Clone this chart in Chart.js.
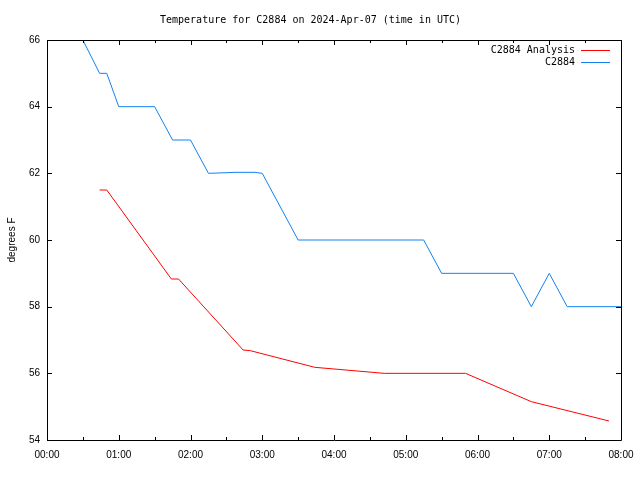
<!DOCTYPE html>
<html>
<head>
<meta charset="utf-8">
<script src="https://cdn.jsdelivr.net/npm/chart.js@4.4.1/dist/chart.umd.min.js"></script>
<style>
  html, body { margin: 0; padding: 0; background: #fff; }
  #wrap { width: 640px; height: 480px; }
</style>
</head>
<body>
<div id="wrap"><canvas id="myChart" width="640" height="480"></canvas></div>
<script>
// readings, times in UTC (HH:MM), temperature in degrees F
const stationTimes = ['00:30', '00:44', '00:50', '01:00', '01:30', '01:45', '02:00', '02:15', '02:38', '02:54', '03:00', '03:30', '05:15', '05:30', '06:30', '06:45', '07:00', '07:15', '08:00'];
const stationTemps = [66, 65, 65, 64, 64, 63, 63, 62, 62.03, 62.03, 62, 60, 60, 59, 59, 58, 59, 58, 58];

const analysisTimes = ['00:44', '00:50', '01:44', '01:50', '02:44', '02:50', '03:44', '04:42', '05:50', '06:45', '07:50'];
const analysisTemps = [61.5, 61.5, 58.83, 58.83, 56.7, 56.68, 56.18, 56.0, 56.0, 55.15, 54.57];

const xTickLabels = ['00:00', '01:00', '02:00', '03:00', '04:00', '05:00', '06:00', '07:00', '08:00'];
const yTicks = [54, 56, 58, 60, 62, 64, 66];

const MONO = '"DejaVu Sans Mono", monospace';
const SANS = '"Liberation Sans", Arial, sans-serif';

function toHours(t) {
  const [h, m] = t.split(':').map(Number);
  return h + m / 60;
}

function toPoints(times, temps) {
  return times.map((t, i) => ({ x: toHours(t), y: temps[i] }));
}

// gnuplot style frame: full border, inward ticks on all four sides
const frameTicks = {
  id: 'frameTicks',
  afterDraw(chart) {
    const ctx = chart.ctx;
    const { left, right, top, bottom } = chart.chartArea;
    const xs = chart.scales.x;
    const ys = chart.scales.y;
    ctx.save();
    ctx.strokeStyle = '#000';
    ctx.lineWidth = 1;
    ctx.beginPath();
    ctx.rect(Math.round(left) + 0.5, Math.round(top) + 0.5, Math.round(right - left), Math.round(bottom - top));
    for (let h = 0; h <= 8; h += 0.5) {
      const px = Math.round(xs.getPixelForValue(h)) + 0.5;
      const len = Number.isInteger(h) ? 5 : 3;
      ctx.moveTo(px, bottom); ctx.lineTo(px, bottom - len);
      ctx.moveTo(px, top); ctx.lineTo(px, top + len);
    }
    yTicks.forEach(v => {
      const py = Math.round(ys.getPixelForValue(v)) + 0.5;
      ctx.moveTo(left, py); ctx.lineTo(left + 5, py);
      ctx.moveTo(right, py); ctx.lineTo(right - 5, py);
    });
    ctx.stroke();

    // legend, text on the left of the line sample
    ctx.font = '10px ' + MONO;
    ctx.textAlign = 'right';
    ctx.textBaseline = 'middle';
    chart.data.datasets.forEach((ds, i) => {
      const y = 50 + i * 12;
      ctx.fillStyle = '#000';
      ctx.fillText(ds.label, 575, y);
      ctx.strokeStyle = ds.borderColor;
      ctx.beginPath();
      ctx.moveTo(581, y + 0.5);
      ctx.lineTo(610, y + 0.5);
      ctx.stroke();
    });
    ctx.restore();
  }
};

const ctx = document.getElementById('myChart').getContext('2d');
const chart = new Chart(ctx, {
  type: 'line',
  data: {
    datasets: [{
      label: 'C2884 Analysis',
      data: toPoints(analysisTimes, analysisTemps),
      borderColor: '#ff0000',
      borderWidth: 1,
      pointRadius: 0,
      tension: 0
    }, {
      label: 'C2884',
      data: toPoints(stationTimes, stationTemps),
      borderColor: '#1382f0',
      borderWidth: 1,
      pointRadius: 0,
      tension: 0
    }]
  },
  options: {
    responsive: false,
    animation: false,
    layout: { padding: { left: 0, right: 19, top: 0, bottom: 0 } },
    plugins: {
      legend: { display: false },
      tooltip: { enabled: false },
      title: {
        display: true,
        text: 'Temperature for C2884 on 2024-Apr-07 (time in UTC)',
        color: '#000',
        font: { family: MONO, size: 10, weight: 'normal' },
        padding: { top: 14, bottom: 14 }
      }
    },
    scales: {
      x: {
        type: 'linear',
        min: 0,
        max: 8,
        grid: { display: false, drawTicks: false },
        border: { display: false },
        ticks: {
          stepSize: 1,
          padding: 9,
          maxRotation: 0,
          color: '#000',
          font: { family: SANS, size: 10 },
          callback: v => xTickLabels[v]
        },
        afterFit: s => { s.height = 40; s.paddingLeft = 0; s.paddingRight = 0; }
      },
      y: {
        min: 54,
        max: 66,
        grid: { display: false, drawTicks: false },
        border: { display: false },
        ticks: {
          stepSize: 2,
          padding: 7,
          color: '#000',
          font: { family: SANS, size: 10 }
        },
        title: {
          display: true,
          text: 'degrees F',
          color: '#000',
          font: { family: SANS, size: 10 },
          padding: { top: 6, bottom: 0 }
        },
        afterFit: s => { s.width = 47; s.paddingTop = 0; s.paddingBottom = 0; }
      }
    }
  },
  plugins: [frameTicks]
});
</script>
</body>
</html>
